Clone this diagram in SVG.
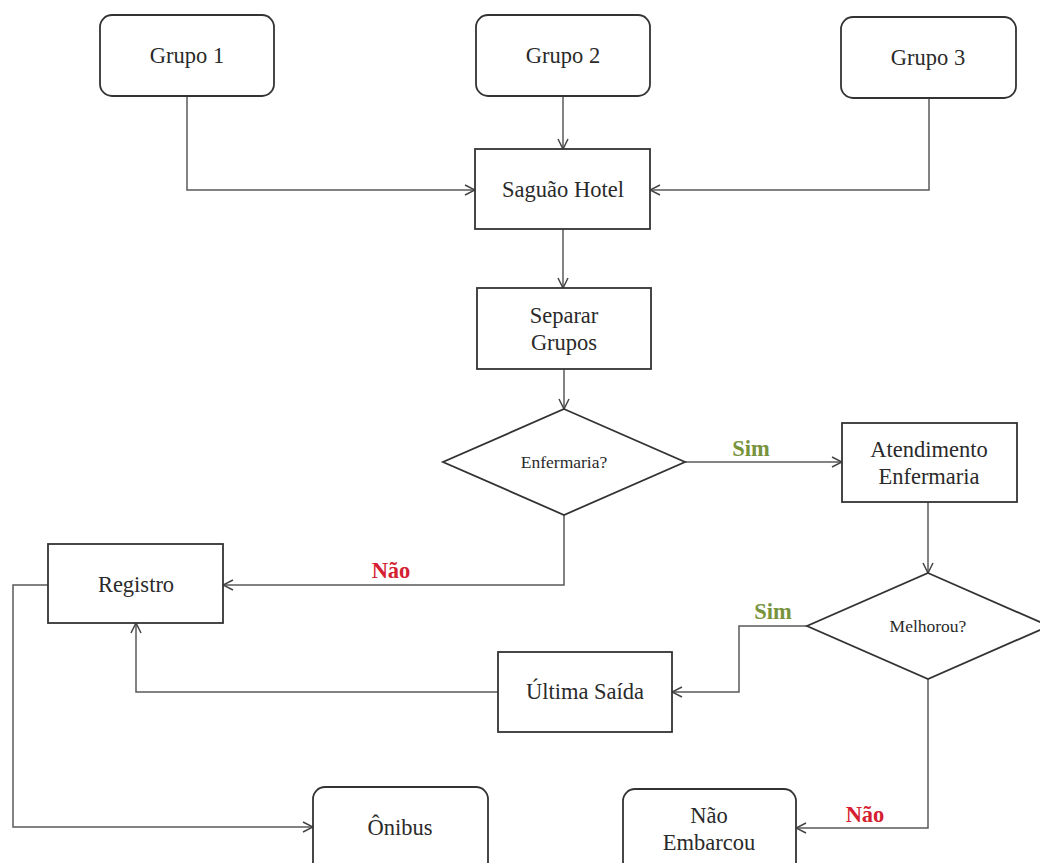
<svg xmlns="http://www.w3.org/2000/svg" width="1040" height="863" viewBox="0 0 1040 863">
<defs>
<marker id="arr" viewBox="0 0 12 12" refX="11" refY="6" markerWidth="12" markerHeight="12" markerUnits="userSpaceOnUse" orient="auto">
<path d="M1,1 L11,6 L1,11" fill="none" stroke="#444" stroke-width="1.5"/>
</marker>
<style>
.box{fill:#fff;stroke:#333;stroke-width:1.8}
.t{font-family:"Liberation Serif","Times New Roman",serif;font-size:22.5px;fill:#2a2a2a;text-anchor:middle}
.ts{font-family:"Liberation Serif","Times New Roman",serif;font-size:17.5px;fill:#2a2a2a;text-anchor:middle}
.c{fill:none;stroke:#5a5a5a;stroke-width:1.5;marker-end:url(#arr)}
.lbl{font-family:"Liberation Serif","Times New Roman",serif;font-size:22.5px;font-weight:bold;text-anchor:middle}
.sim{fill:#77933c}
.nao{fill:#d42030}
</style>
</defs>
<rect width="1040" height="863" fill="#fff"/>
<g id="connectors">
<path class="c" d="M187,96 V190 H475"/>
<path class="c" d="M563,96 V149"/>
<path class="c" d="M929,97 V190 H650"/>
<path class="c" d="M563,229 V288"/>
<path class="c" d="M564,369 V409"/>
<path class="c" d="M685,462 H842"/>
<path class="c" d="M564,515 V585 H223"/>
<path class="c" d="M928,502 V573"/>
<path class="c" d="M807,626 H739 V692 H672"/>
<path class="c" d="M498,692 H136 V623"/>
<path class="c" d="M48,585 H13 V827 H313"/>
<path class="c" d="M928,679 V828 H796"/>
<text class="lbl sim" x="751" y="456">Sim</text>
<text class="lbl nao" x="391" y="578">Não</text>
<text class="lbl sim" x="773" y="619">Sim</text>
<text class="lbl nao" x="865" y="822">Não</text>
</g>
<g id="grupo1"><rect class="box" x="100" y="15" width="174" height="81" rx="12"/><text class="t" x="187" y="63">Grupo 1</text></g>
<g id="grupo2"><rect class="box" x="476" y="15" width="174" height="81" rx="12"/><text class="t" x="563" y="63">Grupo 2</text></g>
<g id="grupo3"><rect class="box" x="841" y="17" width="175" height="81" rx="12"/><text class="t" x="928" y="65">Grupo 3</text></g>
<g id="saguao"><rect class="box" x="475" y="149" width="175" height="80"/><text class="t" x="563" y="197">Saguão Hotel</text></g>
<g id="separar"><rect class="box" x="477" y="288" width="174" height="81"/><text class="t" x="564" y="323">Separar</text><text class="t" x="564" y="350">Grupos</text></g>
<g id="enfermaria"><polygon class="box" points="564,409 685,462 564,515 443,462"/><text class="ts" x="564" y="468">Enfermaria?</text></g>
<g id="atendimento"><rect class="box" x="842" y="423" width="175" height="79"/><text class="t" x="929" y="457">Atendimento</text><text class="t" x="929" y="484">Enfermaria</text></g>
<g id="melhorou"><polygon class="box" points="928,573 1049,626 928,679 807,626"/><text class="ts" x="928" y="632">Melhorou?</text></g>
<g id="registro"><rect class="box" x="48" y="544" width="175" height="79"/><text class="t" x="136" y="592">Registro</text></g>
<g id="ultima"><rect class="box" x="498" y="652" width="174" height="80"/><text class="t" x="585" y="699">Última Saída</text></g>
<g id="onibus"><rect class="box" x="313" y="787" width="175" height="90" rx="12"/><text class="t" x="400" y="835">Ônibus</text></g>
<g id="naoembarcou"><rect class="box" x="623" y="789" width="173" height="90" rx="12"/><text class="t" x="709" y="823">Não</text><text class="t" x="709" y="850">Embarcou</text></g>
</svg>
